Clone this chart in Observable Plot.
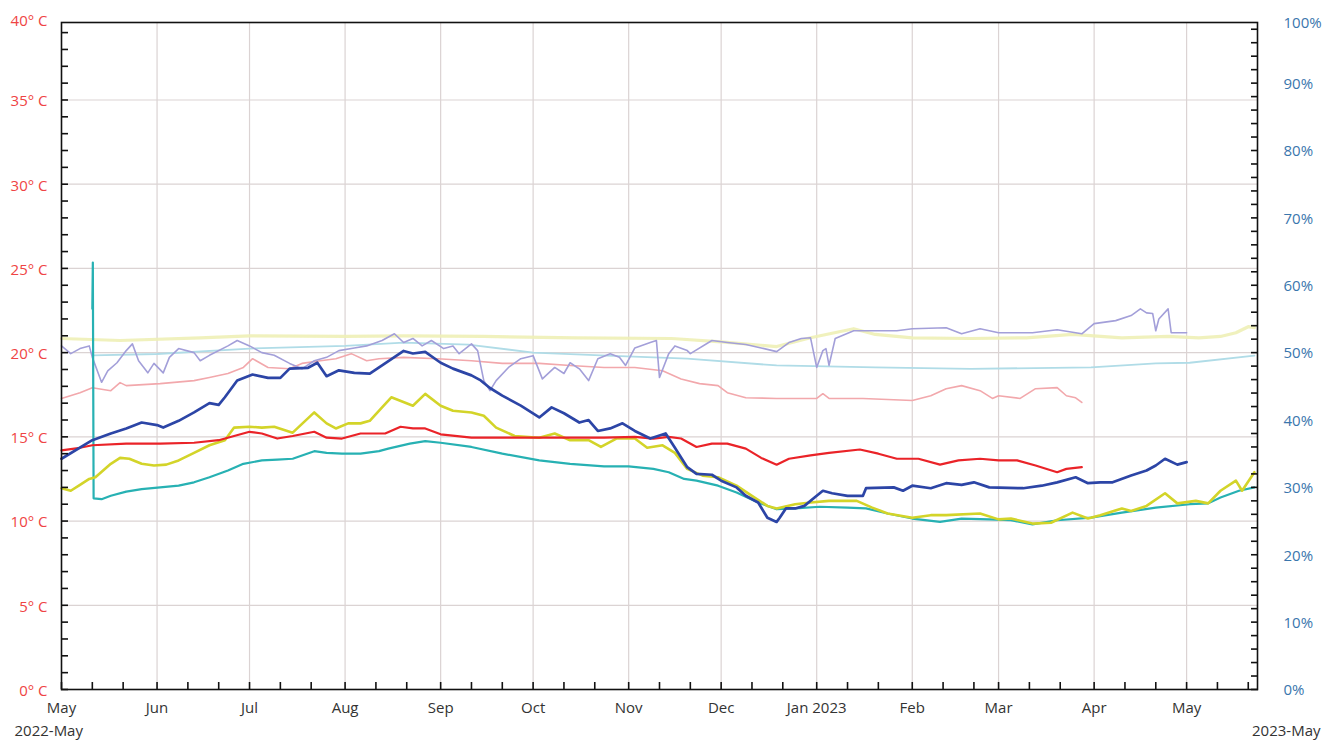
<!DOCTYPE html>
<html><head><meta charset="utf-8">
<script src="https://cdn.jsdelivr.net/npm/d3@7"></script>
<script src="https://cdn.jsdelivr.net/npm/@observablehq/plot@0.6"></script>
<style>html,body{margin:0;padding:0;background:#fff;}#chart{width:1324px;height:742px;overflow:hidden}</style>
</head><body><div id="chart"></div>
<script>
// Temperature series (°C, left axis)
const blueTemp = [["2022-05-01",13.7],["2022-05-11",14.8],["2022-05-17",15.2],["2022-05-22",15.5],["2022-05-27",15.85],["2022-06-01",15.7],["2022-06-03",15.55],["2022-06-08",15.95],["2022-06-13",16.45],["2022-06-18",17.0],["2022-06-21",16.9],["2022-06-23",17.35],["2022-06-27",18.35],["2022-07-02",18.7],["2022-07-07",18.5],["2022-07-11",18.5],["2022-07-14",19.05],["2022-07-20",19.1],["2022-07-23",19.4],["2022-07-26",18.6],["2022-07-30",18.95],["2022-08-04",18.8],["2022-08-09",18.75],["2022-08-13",19.25],["2022-08-20",20.1],["2022-08-23",19.95],["2022-08-27",20.05],["2022-09-01",19.4],["2022-09-05",19.05],["2022-09-11",18.65],["2022-09-14",18.35],["2022-09-17",17.9],["2022-09-21",17.45],["2022-09-27",16.85],["2022-10-03",16.15],["2022-10-07",16.75],["2022-10-11",16.4],["2022-10-16",15.85],["2022-10-19",16.0],["2022-10-22",15.35],["2022-10-26",15.5],["2022-10-30",15.8],["2022-11-03",15.35],["2022-11-08",14.9],["2022-11-13",15.2],["2022-11-16",14.35],["2022-11-20",13.2],["2022-11-23",12.8],["2022-11-28",12.75],["2022-12-01",12.4],["2022-12-06",12.0],["2022-12-09",11.5],["2022-12-13",11.1],["2022-12-16",10.2],["2022-12-19",9.95],["2022-12-20",10.2],["2022-12-22",10.75],["2022-12-25",10.75],["2022-12-28",10.9],["2023-01-01",11.5],["2023-01-03",11.8],["2023-01-06",11.65],["2023-01-11",11.5],["2023-01-16",11.5],["2023-01-17",11.95],["2023-01-26",12.0],["2023-01-29",11.8],["2023-02-01",12.1],["2023-02-07",11.95],["2023-02-12",12.25],["2023-02-17",12.15],["2023-02-21",12.3],["2023-02-26",12.0],["2023-03-09",11.95],["2023-03-15",12.1],["2023-03-20",12.3],["2023-03-26",12.6],["2023-03-30",12.25],["2023-04-03",12.3],["2023-04-07",12.3],["2023-04-13",12.7],["2023-04-18",13.0],["2023-04-21",13.3],["2023-04-24",13.7],["2023-04-28",13.35],["2023-05-01",13.5]];
const redTemp = [["2022-05-01",14.2],["2022-05-07",14.35],["2022-05-11",14.5],["2022-05-22",14.6],["2022-06-02",14.6],["2022-06-13",14.65],["2022-06-21",14.8],["2022-06-26",15.05],["2022-07-01",15.3],["2022-07-05",15.2],["2022-07-10",14.9],["2022-07-15",15.05],["2022-07-22",15.3],["2022-07-26",14.95],["2022-07-31",14.9],["2022-08-06",15.2],["2022-08-14",15.2],["2022-08-19",15.6],["2022-08-23",15.5],["2022-08-27",15.5],["2022-09-01",15.15],["2022-09-11",14.95],["2022-09-21",14.95],["2022-10-03",14.95],["2022-10-13",14.95],["2022-10-24",14.95],["2022-11-03",15.0],["2022-11-09",14.9],["2022-11-14",15.0],["2022-11-18",14.9],["2022-11-23",14.4],["2022-11-28",14.6],["2022-12-03",14.6],["2022-12-09",14.3],["2022-12-14",13.75],["2022-12-19",13.35],["2022-12-23",13.7],["2022-12-30",13.9],["2023-01-05",14.05],["2023-01-15",14.25],["2023-01-21",14.0],["2023-01-27",13.7],["2023-02-03",13.7],["2023-02-10",13.35],["2023-02-16",13.6],["2023-02-23",13.7],["2023-03-01",13.6],["2023-03-07",13.6],["2023-03-13",13.3],["2023-03-20",12.9],["2023-03-23",13.1],["2023-03-28",13.2]];
const yellowTemp = [["2022-05-01",11.95],["2022-05-04",11.8],["2022-05-07",12.15],["2022-05-10",12.5],["2022-05-12",12.6],["2022-05-17",13.4],["2022-05-20",13.75],["2022-05-23",13.7],["2022-05-27",13.4],["2022-05-31",13.3],["2022-06-04",13.35],["2022-06-08",13.6],["2022-06-13",14.05],["2022-06-18",14.5],["2022-06-23",14.8],["2022-06-26",15.55],["2022-07-01",15.6],["2022-07-05",15.55],["2022-07-09",15.6],["2022-07-15",15.25],["2022-07-22",16.45],["2022-07-26",15.8],["2022-07-29",15.5],["2022-08-02",15.8],["2022-08-06",15.8],["2022-08-09",15.95],["2022-08-13",16.75],["2022-08-16",17.35],["2022-08-23",16.85],["2022-08-27",17.55],["2022-09-01",16.85],["2022-09-05",16.55],["2022-09-11",16.45],["2022-09-15",16.25],["2022-09-19",15.55],["2022-09-25",15.05],["2022-10-03",14.95],["2022-10-08",15.2],["2022-10-13",14.8],["2022-10-19",14.8],["2022-10-23",14.4],["2022-10-28",14.9],["2022-11-03",14.9],["2022-11-07",14.35],["2022-11-12",14.5],["2022-11-16",14.05],["2022-11-20",13.1],["2022-11-25",12.7],["2022-11-30",12.6],["2022-12-06",12.1],["2022-12-11",11.5],["2022-12-16",10.9],["2022-12-19",10.75],["2022-12-25",11.0],["2022-12-30",11.1],["2023-01-05",11.2],["2023-01-14",11.2],["2023-01-19",10.8],["2023-01-24",10.45],["2023-02-01",10.2],["2023-02-07",10.35],["2023-02-12",10.35],["2023-02-23",10.45],["2023-03-01",10.1],["2023-03-05",10.15],["2023-03-12",9.85],["2023-03-18",9.9],["2023-03-25",10.5],["2023-03-30",10.15],["2023-04-03",10.35],["2023-04-10",10.75],["2023-04-13",10.6],["2023-04-18",10.9],["2023-04-24",11.65],["2023-04-28",11.05],["2023-05-04",11.2],["2023-05-08",11.05],["2023-05-12",11.8],["2023-05-17",12.4],["2023-05-19",11.8],["2023-05-23",12.9]];
const tealTemp = [["2022-05-11T00:00",22.6],["2022-05-11T04:00",25.35],["2022-05-11T10:00",11.35],["2022-05-14",11.3],["2022-05-17",11.5],["2022-05-22",11.75],["2022-05-27",11.9],["2022-06-02",12.0],["2022-06-08",12.1],["2022-06-13",12.3],["2022-06-18",12.6],["2022-06-24",13.0],["2022-06-29",13.4],["2022-07-05",13.6],["2022-07-10",13.65],["2022-07-15",13.7],["2022-07-22",14.15],["2022-07-26",14.05],["2022-07-31",14.0],["2022-08-06",14.0],["2022-08-12",14.15],["2022-08-15",14.3],["2022-08-22",14.6],["2022-08-27",14.75],["2022-09-01",14.65],["2022-09-11",14.4],["2022-09-21",14.0],["2022-10-03",13.6],["2022-10-13",13.4],["2022-10-24",13.25],["2022-11-01",13.25],["2022-11-09",13.1],["2022-11-14",12.9],["2022-11-19",12.5],["2022-11-23",12.4],["2022-11-30",12.1],["2022-12-06",11.7],["2022-12-13",11.1],["2022-12-19",10.7],["2022-12-25",10.75],["2023-01-02",10.85],["2023-01-11",10.8],["2023-01-17",10.75],["2023-01-24",10.45],["2023-02-01",10.15],["2023-02-10",9.95],["2023-02-17",10.15],["2023-02-26",10.1],["2023-03-05",10.05],["2023-03-12",9.8],["2023-03-20",10.05],["2023-03-31",10.2],["2023-04-10",10.5],["2023-04-21",10.8],["2023-05-02",11.0],["2023-05-08",11.05],["2023-05-12",11.4],["2023-05-18",11.8],["2023-05-23",12.0]];

// Humidity series (%, right axis)
const purpleHum = [["2022-05-01",51.0],["2022-05-04",49.85],["2022-05-07",50.6],["2022-05-10",51.0],["2022-05-11",49.3],["2022-05-14",45.6],["2022-05-16",47.3],["2022-05-19",48.5],["2022-05-22",50.3],["2022-05-24",51.3],["2022-05-26",48.8],["2022-05-29",47.0],["2022-05-31",48.4],["2022-06-03",47.0],["2022-06-05",49.3],["2022-06-08",50.6],["2022-06-13",50.0],["2022-06-15",48.8],["2022-06-18",49.6],["2022-06-24",51.0],["2022-06-27",51.8],["2022-07-01",51.0],["2022-07-05",50.0],["2022-07-09",49.6],["2022-07-14",48.4],["2022-07-18",47.6],["2022-07-22",48.8],["2022-07-26",49.3],["2022-07-30",50.3],["2022-08-04",50.7],["2022-08-08",51.0],["2022-08-13",51.8],["2022-08-17",52.8],["2022-08-20",51.5],["2022-08-23",52.1],["2022-08-26",51.0],["2022-08-29",51.8],["2022-09-02",50.6],["2022-09-05",51.0],["2022-09-07",49.85],["2022-09-11",51.3],["2022-09-13",50.3],["2022-09-15",45.85],["2022-09-17",44.35],["2022-09-19",45.85],["2022-09-23",47.8],["2022-09-27",49.1],["2022-10-01",49.55],["2022-10-04",46.1],["2022-10-08",47.8],["2022-10-11",46.9],["2022-10-13",48.5],["2022-10-16",47.6],["2022-10-19",45.85],["2022-10-22",49.1],["2022-10-26",49.85],["2022-10-29",49.3],["2022-10-31",48.1],["2022-11-03",50.7],["2022-11-08",51.5],["2022-11-10",51.8],["2022-11-11",46.3],["2022-11-14",49.85],["2022-11-16",51.0],["2022-11-20",50.3],["2022-11-21",49.85],["2022-11-28",51.8],["2022-12-03",51.5],["2022-12-09",51.2],["2022-12-14",50.7],["2022-12-19",50.15],["2022-12-23",51.5],["2022-12-27",52.1],["2022-12-30",52.2],["2023-01-01",47.8],["2023-01-03",50.3],["2023-01-04",50.6],["2023-01-05",48.1],["2023-01-07",52.1],["2023-01-13",53.25],["2023-01-27",53.25],["2023-02-01",53.55],["2023-02-12",53.7],["2023-02-17",52.8],["2023-02-23",53.55],["2023-03-01",52.95],["2023-03-12",52.95],["2023-03-20",53.4],["2023-03-28",52.8],["2023-04-01",54.3],["2023-04-08",54.75],["2023-04-13",55.5],["2023-04-16",56.5],["2023-04-18",55.9],["2023-04-20",55.8],["2023-04-21",53.25],["2023-04-22",55.0],["2023-04-25",56.5],["2023-04-26",52.95],["2023-05-01",52.95]];
const pinkHum = [["2022-05-01",43.2],["2022-05-07",44.05],["2022-05-11",44.8],["2022-05-17",44.35],["2022-05-20",45.55],["2022-05-22",45.1],["2022-06-02",45.4],["2022-06-13",45.85],["2022-06-18",46.3],["2022-06-24",46.9],["2022-06-29",47.8],["2022-07-02",49.1],["2022-07-07",47.8],["2022-07-14",47.6],["2022-07-18",48.4],["2022-07-24",48.8],["2022-07-29",49.1],["2022-08-03",49.85],["2022-08-08",48.8],["2022-08-12",49.1],["2022-08-20",49.3],["2022-08-31",49.1],["2022-09-11",48.8],["2022-09-21",48.4],["2022-10-03",48.4],["2022-10-13",48.1],["2022-10-24",47.8],["2022-11-03",47.8],["2022-11-12",47.3],["2022-11-18",46.1],["2022-11-24",45.4],["2022-11-30",45.1],["2022-12-03",44.05],["2022-12-09",43.3],["2022-12-19",43.2],["2023-01-01",43.2],["2023-01-03",43.9],["2023-01-05",43.2],["2023-01-16",43.2],["2023-02-01",42.9],["2023-02-07",43.6],["2023-02-12",44.65],["2023-02-17",45.1],["2023-02-23",44.35],["2023-02-27",43.2],["2023-03-01",43.6],["2023-03-08",43.2],["2023-03-13",44.65],["2023-03-20",44.8],["2023-03-23",43.6],["2023-03-26",43.3],["2023-03-28",42.6]];
const paleYellowHum = [["2022-05-01",52.1],["2022-05-20",51.8],["2022-06-15",52.2],["2022-07-01",52.5],["2022-08-01",52.4],["2022-08-20",52.5],["2022-09-15",52.4],["2022-10-15",52.2],["2022-11-15",52.1],["2022-12-01",51.6],["2022-12-19",50.9],["2022-12-30",52.2],["2023-01-13",53.55],["2023-01-20",52.7],["2023-02-01",52.2],["2023-02-20",52.1],["2023-03-10",52.2],["2023-03-25",52.7],["2023-04-10",52.2],["2023-04-25",52.4],["2023-05-05",52.2],["2023-05-12",52.4],["2023-05-17",52.95],["2023-05-21",53.85],["2023-05-23",53.7]];
const cyanHum = [["2022-05-11",49.6],["2022-06-01",49.8],["2022-07-01",50.6],["2022-08-01",51.0],["2022-08-20",51.5],["2022-09-10",51.2],["2022-10-01",50.0],["2022-10-25",49.55],["2022-11-20",49.1],["2022-12-19",48.1],["2023-01-20",47.8],["2023-02-20",47.6],["2023-03-31",47.8],["2023-04-21",48.4],["2023-05-02",48.5],["2023-05-23",49.55]];

// Axis labels / ticks
const tempTickLabels = [0, 5, 10, 15, 20, 25, 30, 35];
const humTickLabels = [0, 10, 20, 30, 40, 50, 60, 70, 80, 90];
const startLabel = "2022-May";
const endLabel = "2023-May";

const toDate = s => new Date(s.length > 10 ? s + ":00Z" : s + "T00:00:00Z");
const rows = pairs => pairs.map(([d, v]) => ({date: toDate(d), v}));
const HUM = 0.4; // 100 % shares the 40 °C position

const xStart = new Date(Date.UTC(2022, 4, 1));
const xEnd = new Date(Date.UTC(2023, 4, 24));
const monthStarts = d3.utcMonth.range(xStart, new Date(Date.UTC(2023, 4, 2)));
const minorX = monthStarts.flatMap(m => [1, 11, 21].map(d => new Date(Date.UTC(m.getUTCFullYear(), m.getUTCMonth(), d)))).filter(d => d <= xEnd);

const humLine = (data, stroke, w, op = 1) => Plot.line(rows(data), {x: "date", y: d => d.v * HUM, stroke, strokeWidth: w, strokeOpacity: op});
const tempLine = (data, stroke, w) => Plot.line(rows(data), {x: "date", y: "v", stroke, strokeWidth: w});

const chart = Plot.plot({
  width: 1324, height: 742,
  marginLeft: 61, marginRight: 67, marginTop: 22, marginBottom: 53,
  style: {fontFamily: "'Open Sans', sans-serif", fontSize: "15px", background: "#fff", overflow: "visible"},
  x: {type: "utc", domain: [xStart, xEnd]},
  y: {domain: [0, 39.6]},
  marks: [
    Plot.gridX(monthStarts.slice(1), {stroke: "#dbd3d3", strokeOpacity: 1, strokeWidth: 1.2}),
    Plot.gridY(d3.range(5, 40, 5), {stroke: "#dbd3d3", strokeOpacity: 1, strokeWidth: 1.2}),
    humLine(paleYellowHum, "#eef0b6", 3.2, 0.9),
    humLine(cyanHum, "#b0dce7", 1.8),
    humLine(pinkHum, "#f2a8ac", 1.6),
    humLine(purpleHum, "#a39fd9", 1.6),
    tempLine(tealTemp, "#27b1b3", 2.2),
    tempLine(yellowTemp, "#d3d429", 2.6),
    tempLine(redTemp, "#ea2328", 2.2),
    tempLine(blueTemp, "#2c45a6", 2.7),
    Plot.frame({stroke: "#111", strokeWidth: 1.6}),
    // left axis: inward minor ticks + red labels
    Plot.axisY(d3.range(0, 40), {anchor: "left", tickSize: 7, dx: 7, strokeWidth: 1.6, stroke: "#111", fill: "none", label: null}),
    Plot.axisY(tempTickLabels, {anchor: "left", tickSize: 0, tickPadding: 14, dy: 1.5, tickFormat: d => `${d}° C`, fill: "#ef4444", label: null}),
    Plot.axisY([40], {anchor: "left", tickSize: 0, tickPadding: 14, dy: 5, tickFormat: d => `${d}° C`, fill: "#ef4444", label: null}),
    // right axis: humidity
    Plot.axisY(d3.range(0, 100, 2).map(p => p * HUM), {anchor: "right", tickSize: 7, dx: -7, strokeWidth: 1.6, stroke: "#111", fill: "none", label: null}),
    Plot.axisY(humTickLabels.map(p => p * HUM), {anchor: "right", tickSize: 0, tickPadding: 26, dy: 1, tickFormat: d => `${Math.round(d / HUM)}%`, fill: "#3a76ad", label: null}),
    Plot.axisY([100 * HUM], {anchor: "right", tickSize: 0, tickPadding: 26, dy: 7, tickFormat: d => `${Math.round(d / HUM)}%`, fill: "#3a76ad", label: null}),
    // bottom axis
    Plot.axisX(minorX, {anchor: "bottom", tickSize: 7, dy: -7, strokeWidth: 1.6, stroke: "#111", fill: "none", label: null}),
    Plot.axisX(monthStarts, {anchor: "bottom", tickSize: 0, tickPadding: 13, fill: "#333", label: null,
      tickFormat: d => d.getUTCMonth() === 0 ? `Jan ${d.getUTCFullYear()}` : d3.utcFormat("%b")(d)}),
    Plot.text([startLabel], {frameAnchor: "bottom-left", dx: -47, dy: 42, textAnchor: "start", lineAnchor: "middle", fill: "#333"}),
    Plot.text([endLabel], {frameAnchor: "bottom-right", dx: 63, dy: 42, textAnchor: "end", lineAnchor: "middle", fill: "#333"})
  ]
});
document.getElementById("chart").append(chart);
</script>
</body></html>
